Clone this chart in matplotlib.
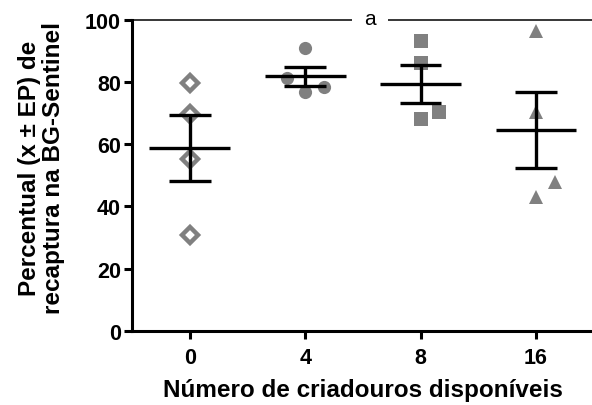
import matplotlib.pyplot as plt
import numpy as np

plt.rcParams['font.family'] = ['Liberation Sans', 'DejaVu Sans']

categories = ['0', '4', '8', '16']
g0 = [79.5, 69.7, 55.3, 30.8]
g4 = [90.8, 81.3, 78.3, 76.7]
g8 = [93.2, 86.1, 70.2, 68.1]
g16 = [96.5, 70.4, 47.9, 42.9]
groups = [g0, g4, g8, g16]

# horizontal scatter of the points (GraphPad style)
offsets = [[0, 0, 0, 0],
           [0, -0.16, 0.16, 0],
           [0, 0, 0.16, 0],
           [0, 0, 0.16, 0]]

grey = '#808080'
styles = [dict(marker='D', ms=8.5, mfc='white', mec=grey, mew=3.2),
          dict(marker='o', ms=9.5, mfc=grey, mec=grey, mew=0),
          dict(marker='s', ms=9.5, mfc=grey, mec=grey, mew=0),
          dict(marker='^', ms=9.5, mfc=grey, mec=grey, mew=0)]

fig = plt.figure(figsize=(5.92, 4.06), dpi=100)
ax = fig.add_axes([0.223, 0.183, 0.78, 0.766])

for i, vals in enumerate(groups):
    xs = i + np.array(offsets[i])
    ax.plot(xs, vals, ls='none', zorder=2, clip_on=False, **styles[i])
    m = np.mean(vals)
    se = np.std(vals, ddof=1) / np.sqrt(len(vals))
    ax.hlines(m, i - 0.35, i + 0.35, color='black', lw=2.4, zorder=3)
    ax.hlines([m - se, m + se], i - 0.18, i + 0.18, color='black', lw=2.4, zorder=3)
    ax.vlines(i, m - se, m + se, color='black', lw=2.4, zorder=3)

# significance line
ax.plot([-0.5, 3.5], [100, 100], color='black', lw=1.1, clip_on=False, zorder=1)
ax.text(1.56, 100.5, 'a', ha='center', va='center', fontsize=15,
        bbox=dict(facecolor='white', edgecolor='none', pad=9), zorder=4)

ax.set_xlim(-0.5, 3.5)
ax.set_ylim(0, 100)
ax.set_xticks(range(4))
ax.set_xticklabels(categories)
ax.set_yticks([0, 20, 40, 60, 80, 100])
for s in ['top', 'right']:
    ax.spines[s].set_visible(False)
for s in ['left', 'bottom']:
    ax.spines[s].set_linewidth(2.2)
ax.tick_params(width=2.2, length=6, labelsize=15.5)
ax.tick_params(axis='x', pad=6)
ax.tick_params(axis='y', pad=2)
for lab in ax.get_xticklabels() + ax.get_yticklabels():
    lab.set_fontweight('bold')

ax.set_xlabel('Número de criadouros disponíveis', fontsize=17.5, fontweight='bold', labelpad=7)
ax.set_ylabel('Percentual (x ± EP) de\nrecaptura na BG-Sentinel', fontsize=17.5,
              fontweight='bold', linespacing=1.05)
ax.yaxis.set_label_coords(-0.145, 0.525)

fig.savefig('out.png', dpi=100)
